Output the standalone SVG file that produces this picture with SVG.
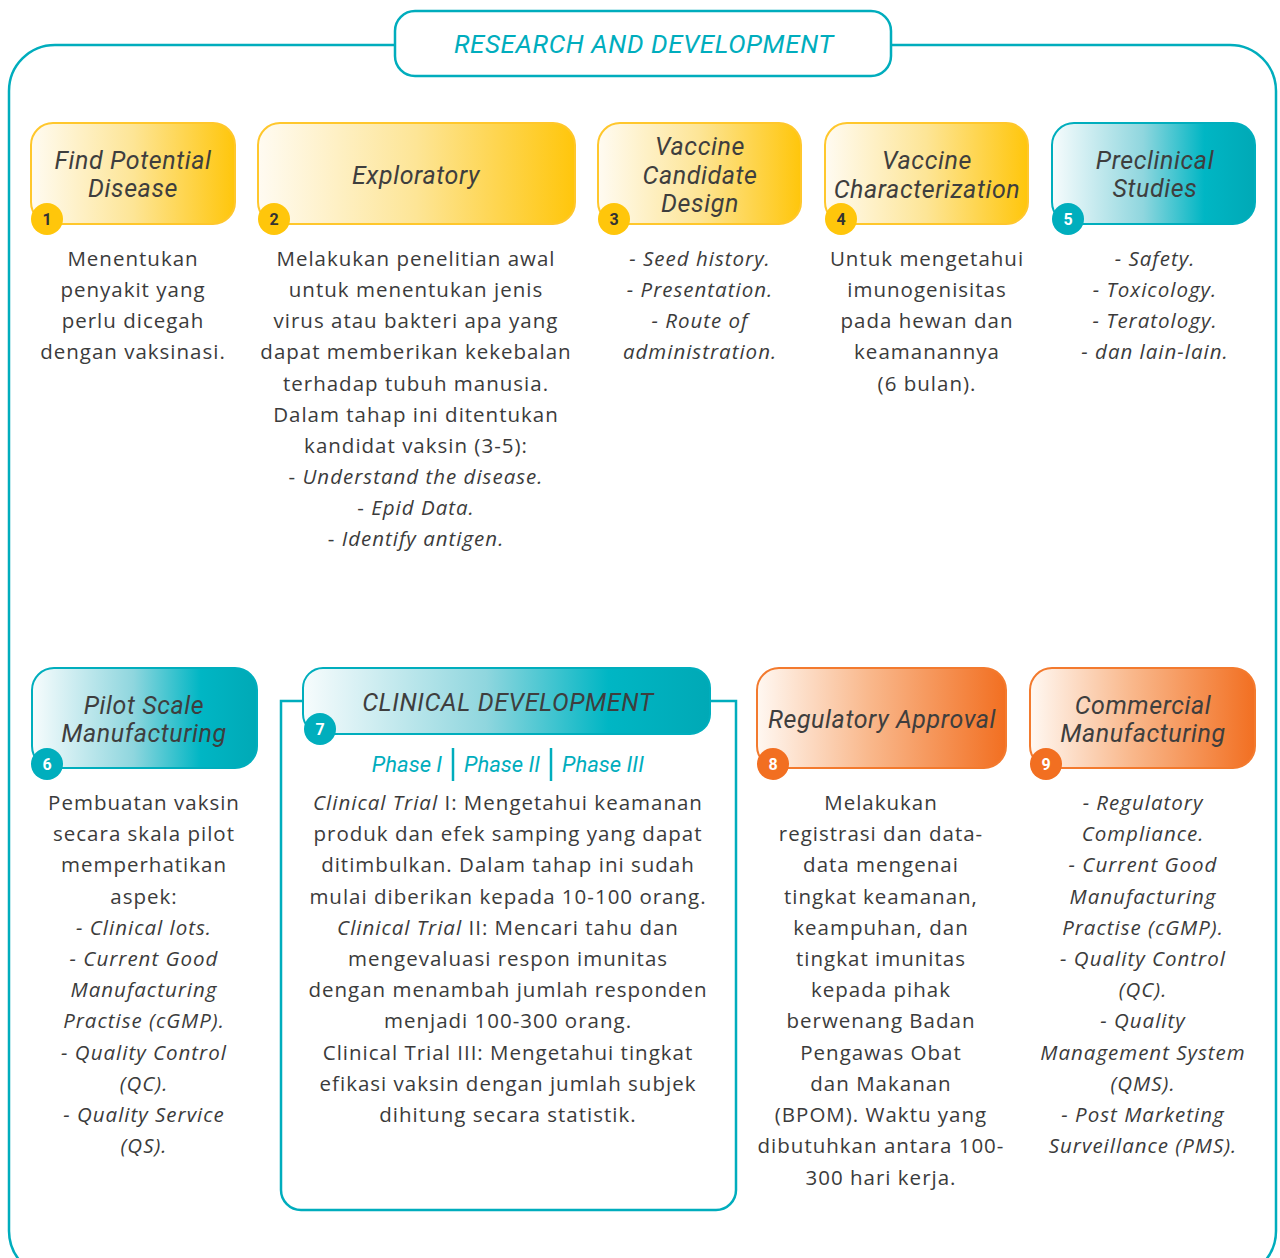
<svg xmlns="http://www.w3.org/2000/svg" width="1280" height="1258" viewBox="0 0 1280 1258">
<defs>
<linearGradient id="gy" x1="0" y1="0" x2="1" y2="0">
<stop offset="0" stop-color="#fffbf2"/><stop offset="0.5" stop-color="#fde596"/><stop offset="1" stop-color="#ffc60b"/>
</linearGradient>
<linearGradient id="gt" x1="0" y1="0" x2="1" y2="0">
<stop offset="0" stop-color="#f7fcfd"/><stop offset="0.45" stop-color="#8fd6de"/><stop offset="0.75" stop-color="#00b6c4"/><stop offset="1" stop-color="#00a9b6"/>
</linearGradient>
<linearGradient id="go" x1="0" y1="0" x2="1" y2="0">
<stop offset="0" stop-color="#fff8f2"/><stop offset="0.45" stop-color="#f9b88c"/><stop offset="1" stop-color="#f26f21"/>
</linearGradient>
<style>
.frame{fill:none;stroke:#00adbd;stroke-width:2.5}
.by{fill:url(#gy);stroke:#ffc72c;stroke-width:2}
.bt{fill:url(#gt);stroke:#00aebd;stroke-width:2}
.bo{fill:url(#go);stroke:#f37a2e;stroke-width:2}
.h{font-family:Roboto,"Liberation Sans",sans-serif;font-style:italic;font-size:25px;letter-spacing:0.6px;fill:#3e3e3e;text-anchor:middle}
.b{font-family:"Open Sans","Liberation Sans",sans-serif;font-size:20.5px;letter-spacing:1px;fill:#3b3b3b;text-anchor:middle}
.i{font-style:italic}
.cy{fill:#ffc60b}.ct{fill:#00aebd}.co{fill:#f26f21}
.n{font-family:Roboto,"Liberation Sans",sans-serif;font-weight:bold;font-size:16px;text-anchor:middle}
.nd{fill:#333}.nw{fill:#fff}
.title{font-family:Roboto,"Liberation Sans",sans-serif;font-style:italic;font-size:26px;letter-spacing:0.6px;fill:#00adbd;text-anchor:middle}
.ph{font-family:Roboto,"Liberation Sans",sans-serif;font-style:italic;font-size:22px;fill:#00adbd;text-anchor:middle}
</style>
</defs>
<rect width="1280" height="1258" fill="#fff"/>
<g id="connectors">
<rect class="frame" x="9" y="45" width="1267" height="1232" rx="46"/>
<path class="frame" d="M303,701 H281 V1190 A20,20 0 0 0 301,1210 H716 A20,20 0 0 0 736,1190 V701 H710"/>
<line x1="453" y1="748" x2="453" y2="781" stroke="#00adbd" stroke-width="2.5"/>
<line x1="551" y1="748" x2="551" y2="781" stroke="#00adbd" stroke-width="2.5"/>
</g>
<g id="title">
<rect x="395" y="11" width="496" height="65" rx="20" fill="#fff" stroke="#00adbd" stroke-width="2.5"/>
<text class="title" x="644" y="53">RESEARCH AND DEVELOPMENT</text>
</g>
<g id="node1">
<rect class="by" x="31" y="123" width="204" height="101" rx="22"/>
<text class="h" x="133" y="169">Find Potential</text>
<text class="h" x="133" y="197">Disease</text>
<circle class="cy" cx="47" cy="219" r="16"/><text class="n nd" x="47" y="225">1</text>
<text class="b"><tspan x="133" y="266">Menentukan</tspan><tspan x="133" y="297">penyakit yang</tspan><tspan x="133" y="328">perlu dicegah</tspan><tspan x="133" y="359">dengan vaksinasi.</tspan></text>
</g>
<g id="node2">
<rect class="by" x="258" y="123" width="317" height="101" rx="22"/>
<text class="h" x="416" y="184">Exploratory</text>
<circle class="cy" cx="274" cy="219" r="16"/><text class="n nd" x="274" y="225">2</text>
<text class="b"><tspan x="416" y="266">Melakukan penelitian awal</tspan><tspan x="416" y="297">untuk menentukan jenis</tspan><tspan x="416" y="328">virus atau bakteri apa yang</tspan><tspan x="416" y="359">dapat memberikan kekebalan</tspan><tspan x="416" y="391">terhadap tubuh manusia.</tspan><tspan x="416" y="422">Dalam tahap ini ditentukan</tspan><tspan x="416" y="453">kandidat vaksin (3-5):</tspan><tspan x="416" y="484">- <tspan class="i">Understand the disease.</tspan></tspan><tspan x="416" y="515">- <tspan class="i">Epid Data.</tspan></tspan><tspan x="416" y="546">- <tspan class="i">Identify antigen.</tspan></tspan></text>
</g>
<g id="node3">
<rect class="by" x="598" y="123" width="203" height="101" rx="22"/>
<text class="h" x="700" y="155">Vaccine</text>
<text class="h" x="700" y="184">Candidate</text>
<text class="h" x="700" y="212">Design</text>
<circle class="cy" cx="614" cy="219" r="16"/><text class="n nd" x="614" y="225">3</text>
<text class="b i"><tspan x="700" y="266">- Seed history.</tspan><tspan x="700" y="297">- Presentation.</tspan><tspan x="700" y="328">- Route of</tspan><tspan x="700" y="359">administration.</tspan></text>
</g>
<g id="node4">
<rect class="by" x="825" y="123" width="203" height="101" rx="22"/>
<text class="h" x="927" y="169">Vaccine</text>
<text class="h" x="927" y="198">Characterization</text>
<circle class="cy" cx="841" cy="219" r="16"/><text class="n nd" x="841" y="225">4</text>
<text class="b"><tspan x="927" y="266">Untuk mengetahui</tspan><tspan x="927" y="297">imunogenisitas</tspan><tspan x="927" y="328">pada hewan dan</tspan><tspan x="927" y="359">keamanannya</tspan><tspan x="927" y="391">(6 bulan).</tspan></text>
</g>
<g id="node5">
<rect class="bt" x="1052" y="123" width="203" height="101" rx="22"/>
<text class="h" x="1155" y="169">Preclinical</text>
<text class="h" x="1155" y="197">Studies</text>
<circle class="ct" cx="1068" cy="219" r="16"/><text class="n nw" x="1068" y="225">5</text>
<text class="b i"><tspan x="1155" y="266">- Safety.</tspan><tspan x="1155" y="297">- Toxicology.</tspan><tspan x="1155" y="328">- Teratology.</tspan><tspan x="1155" y="359">- dan lain-lain.</tspan></text>
</g>
<g id="node6">
<rect class="bt" x="32" y="668" width="225" height="100" rx="22"/>
<text class="h" x="144" y="714">Pilot Scale</text>
<text class="h" x="144" y="742">Manufacturing</text>
<circle class="ct" cx="47" cy="764" r="16"/><text class="n nw" x="47" y="770">6</text>
<text class="b"><tspan x="144" y="810">Pembuatan vaksin</tspan><tspan x="144" y="841">secara skala pilot</tspan><tspan x="144" y="872">memperhatikan</tspan><tspan x="144" y="904">aspek:</tspan><tspan class="i" x="144" y="935">- Clinical lots.</tspan><tspan class="i" x="144" y="966">- Current Good</tspan><tspan class="i" x="144" y="997">Manufacturing</tspan><tspan class="i" x="144" y="1028">Practise (cGMP).</tspan><tspan class="i" x="144" y="1060">- Quality Control</tspan><tspan class="i" x="144" y="1091">(QC).</tspan><tspan class="i" x="144" y="1122">- Quality Service</tspan><tspan class="i" x="144" y="1153">(QS).</tspan></text>
</g>
<g id="node7">
<rect class="bt" x="303" y="668" width="407" height="66" rx="20"/>
<text class="h" x="508" y="711">CLINICAL DEVELOPMENT</text>
<circle class="ct" cx="320" cy="729" r="16"/><text class="n nw" x="320" y="735">7</text>
<text class="ph" x="407" y="772">Phase I</text>
<text class="ph" x="502" y="772">Phase II</text>
<text class="ph" x="603" y="772">Phase III</text>
<text class="b"><tspan x="508" y="810"><tspan class="i">Clinical Trial</tspan> I: Mengetahui keamanan</tspan><tspan x="508" y="841">produk dan efek samping yang dapat</tspan><tspan x="508" y="872">ditimbulkan. Dalam tahap ini sudah</tspan><tspan x="508" y="904">mulai diberikan kepada 10-100 orang.</tspan><tspan x="508" y="935"><tspan class="i">Clinical Trial</tspan> II: Mencari tahu dan</tspan><tspan x="508" y="966">mengevaluasi respon imunitas</tspan><tspan x="508" y="997">dengan menambah jumlah responden</tspan><tspan x="508" y="1028">menjadi 100-300 orang.</tspan><tspan x="508" y="1060">Clinical Trial III: Mengetahui tingkat</tspan><tspan x="508" y="1091">efikasi vaksin dengan jumlah subjek</tspan><tspan x="508" y="1122">dihitung secara statistik.</tspan></text>
</g>
<g id="node8">
<rect class="bo" x="757" y="668" width="249" height="100" rx="22"/>
<text class="h" x="882" y="728">Regulatory Approval</text>
<circle class="co" cx="773" cy="764" r="16"/><text class="n nw" x="773" y="770">8</text>
<text class="b"><tspan x="881" y="810">Melakukan</tspan><tspan x="881" y="841">registrasi dan data-</tspan><tspan x="881" y="872">data mengenai</tspan><tspan x="881" y="904">tingkat keamanan,</tspan><tspan x="881" y="935">keampuhan, dan</tspan><tspan x="881" y="966">tingkat imunitas</tspan><tspan x="881" y="997">kepada pihak</tspan><tspan x="881" y="1028">berwenang Badan</tspan><tspan x="881" y="1060">Pengawas Obat</tspan><tspan x="881" y="1091">dan Makanan</tspan><tspan x="881" y="1122">(BPOM). Waktu yang</tspan><tspan x="881" y="1153">dibutuhkan antara 100-</tspan><tspan x="881" y="1185">300 hari kerja.</tspan></text>
</g>
<g id="node9">
<rect class="bo" x="1030" y="668" width="225" height="100" rx="22"/>
<text class="h" x="1143" y="714">Commercial</text>
<text class="h" x="1143" y="742">Manufacturing</text>
<circle class="co" cx="1046" cy="764" r="16"/><text class="n nw" x="1046" y="770">9</text>
<text class="b i"><tspan x="1143" y="810">- Regulatory</tspan><tspan x="1143" y="841">Compliance.</tspan><tspan x="1143" y="872">- Current Good</tspan><tspan x="1143" y="904">Manufacturing</tspan><tspan x="1143" y="935">Practise (cGMP).</tspan><tspan x="1143" y="966">- Quality Control</tspan><tspan x="1143" y="997">(QC).</tspan><tspan x="1143" y="1028">- Quality</tspan><tspan x="1143" y="1060">Management System</tspan><tspan x="1143" y="1091">(QMS).</tspan><tspan x="1143" y="1122">- Post Marketing</tspan><tspan x="1143" y="1153">Surveillance (PMS).</tspan></text>
</g>
</svg>
